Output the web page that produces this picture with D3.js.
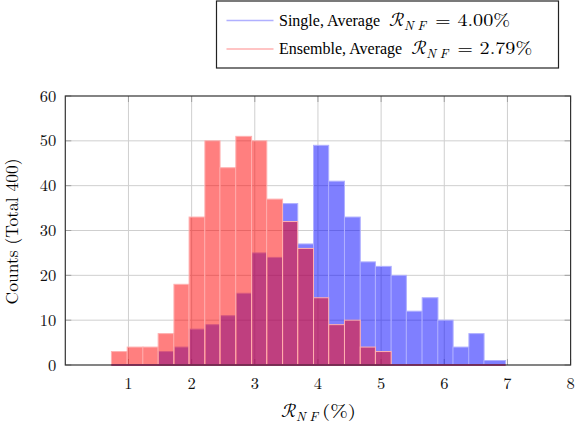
<!DOCTYPE html>
<html>
<head>
<meta charset="utf-8">
<script src="https://cdn.jsdelivr.net/npm/d3@7"></script>
<style>
  body { margin: 0; background: #fff; }
</style>
</head>
<body>
<div id="chart"></div>
<script>
// bin edges (R_NF in %), shared by both histograms
const binEdges = [0.73, 0.98, 1.23, 1.47, 1.72, 1.96, 2.21, 2.45, 2.70, 2.95, 3.19, 3.44, 3.68,
                  3.93, 4.17, 4.42, 4.67, 4.91, 5.16, 5.40, 5.65, 5.90, 6.14, 6.39, 6.63, 6.97];

const singleCounts   = [0, 0, 0, 3, 4, 8, 9, 11, 16, 25, 24, 36, 27,
                        49, 41, 33, 23, 22, 20, 12, 15, 10, 4, 7, 1];
const ensembleCounts = [3, 4, 4, 7, 18, 33, 50, 44, 51, 50, 37, 32, 26,
                        15, 9, 10, 4, 3, 0, 0, 0, 0, 0, 0, 0];

const xTicks = [1, 2, 3, 4, 5, 6, 7, 8];
const yTicks = [0, 10, 20, 30, 40, 50, 60];

const seriesNames = ["Single", "Ensemble"];
const seriesAvg = ["4.00", "2.79"];

const W = 576, H = 426;
const margin = {top: 96, right: 5.4, bottom: 61, left: 65.3};
const width = W - margin.left - margin.right;
const height = H - margin.top - margin.bottom;
const textFont = "Liberation Serif";
const cmFont = "Latin Modern Roman";
const mathFont = "Latin Modern Math, Latin Modern Roman";

const svg = d3.select("#chart").append("svg")
    .attr("width", W)
    .attr("height", H)
    .attr("font-family", cmFont);

const g = svg.append("g")
    .attr("transform", "translate(" + margin.left + "," + margin.top + ")");

const x = d3.scaleLinear().domain([0, 8]).range([0, width]);
const y = d3.scaleLinear().domain([0, 60]).range([height, 0]);

// grid
g.append("g").selectAll("line").data(xTicks.slice(0, -1)).join("line")
    .attr("x1", d => x(d)).attr("x2", d => x(d))
    .attr("y1", 0).attr("y2", height)
    .attr("stroke", "#cfcfcf").attr("stroke-width", 1);
g.append("g").selectAll("line").data(yTicks.slice(1, -1)).join("line")
    .attr("x1", 0).attr("x2", width)
    .attr("y1", d => y(d)).attr("y2", d => y(d))
    .attr("stroke", "#cfcfcf").attr("stroke-width", 1);

// tick marks (inside, both sides)
const tickLen = 6;
g.append("g").selectAll("line").data(yTicks).join("line")
    .attr("x1", 0).attr("x2", tickLen)
    .attr("y1", d => y(d)).attr("y2", d => y(d))
    .attr("stroke", "#a0a0a0");
g.append("g").selectAll("line").data(yTicks).join("line")
    .attr("x1", width - tickLen).attr("x2", width)
    .attr("y1", d => y(d)).attr("y2", d => y(d))
    .attr("stroke", "#a0a0a0");
g.append("g").selectAll("line").data(xTicks).join("line")
    .attr("x1", d => x(d)).attr("x2", d => x(d))
    .attr("y1", 0).attr("y2", tickLen)
    .attr("stroke", "#a0a0a0");
g.append("g").selectAll("line").data(xTicks).join("line")
    .attr("x1", d => x(d)).attr("x2", d => x(d))
    .attr("y1", height - tickLen).attr("y2", height)
    .attr("stroke", "#a0a0a0");

// bars
function toBins(counts) {
    return counts.map((c, i) => ({x0: binEdges[i], x1: binEdges[i + 1], n: c}));
}

const styles = [
    {fill: "#0000ff", stroke: "#b0b0ff"},
    {fill: "#ff0000", stroke: "#ffb0b0"}
];

[singleCounts, ensembleCounts].forEach((counts, k) => {
    g.append("g").selectAll("rect").data(toBins(counts).filter(d => d.n > 0)).join("rect")
        .attr("x", d => x(d.x0))
        .attr("y", d => y(d.n))
        .attr("width", d => x(d.x1) - x(d.x0))
        .attr("height", d => y(0) - y(d.n))
        .attr("fill", styles[k].fill)
        .attr("fill-opacity", 0.5)
        .attr("stroke", styles[k].stroke)
        .attr("stroke-width", 1);
});

// axis box
g.append("rect")
    .attr("x", 0).attr("y", 0)
    .attr("width", width).attr("height", height)
    .attr("fill", "none")
    .attr("stroke", "#333")
    .attr("stroke-width", 1.2);

// zero-height bars along the baseline
g.append("line")
    .attr("x1", x(binEdges[0])).attr("x2", x(binEdges[binEdges.length - 1]))
    .attr("y1", y(0)).attr("y2", y(0))
    .attr("stroke", "#7a1f4f").attr("stroke-width", 1.4);

// tick labels
g.append("g").selectAll("text").data(xTicks).join("text")
    .attr("x", d => x(d))
    .attr("y", height + 24)
    .attr("text-anchor", "middle")
    .attr("font-family", cmFont)
    .attr("font-size", 16.5)
    .attr("fill", "#111")
    .text(d => d);
g.append("g").selectAll("text").data(yTicks).join("text")
    .attr("x", -9)
    .attr("y", d => y(d) + 5.5)
    .attr("text-anchor", "end")
    .attr("font-family", cmFont)
    .attr("font-size", 16.5)
    .attr("fill", "#111")
    .text(d => d);

// axis labels
g.append("text")
    .attr("transform", "translate(-47.5," + (height / 2 + 1) + ") rotate(-90)")
    .attr("text-anchor", "middle")
    .attr("font-family", cmFont)
    .attr("font-size", 17.5)
    .text("Counts (Total 400)");

// R_NF symbol: script R, italic subscript, then the rest
function mathLabel(sel, x0, baseY, rest, restGap, restSize, restLen) {
    sel.append("text").attr("x", x0).attr("y", baseY)
        .attr("font-family", mathFont).attr("font-size", 19).text("ℛ");
    sel.append("text").attr("x", x0 + 15).attr("y", baseY + 4)
        .attr("font-family", cmFont).attr("font-style", "italic").attr("font-size", 13)
        .attr("textLength", 22).attr("lengthAdjust", "spacing").text("N F");
    sel.append("text").attr("x", x0 + restGap).attr("y", baseY)
        .attr("font-family", cmFont).attr("font-size", restSize)
        .attr("textLength", restLen).attr("lengthAdjust", "spacingAndGlyphs").text(rest);
}

mathLabel(svg.append("g"), 281, 417, "(%)", 41, 17.5, 34);

// legend
const legend = svg.append("g").attr("transform", "translate(216.5,1)");
legend.append("rect")
    .attr("width", 342).attr("height", 67)
    .attr("fill", "#fff")
    .attr("stroke", "#222")
    .attr("stroke-width", 1.2);

seriesNames.forEach((name, i) => {
    const row = legend.append("g").attr("transform", "translate(0," + (19.5 + i * 28.5) + ")");
    row.append("line")
        .attr("x1", 10).attr("x2", 57)
        .attr("stroke", styles[i].stroke)
        .attr("stroke-width", 1.3);
    const label = row.append("text")
        .attr("x", 62.5).attr("y", 5)
        .attr("font-family", textFont)
        .attr("font-size", 16)
        .text(name + ", Average");
    const len = label.node().getComputedTextLength();
    mathLabel(row, 62.5 + len + 9, 5, "=  " + seriesAvg[i] + "%", 46, 17, 75);
});
</script>
</body>
</html>
